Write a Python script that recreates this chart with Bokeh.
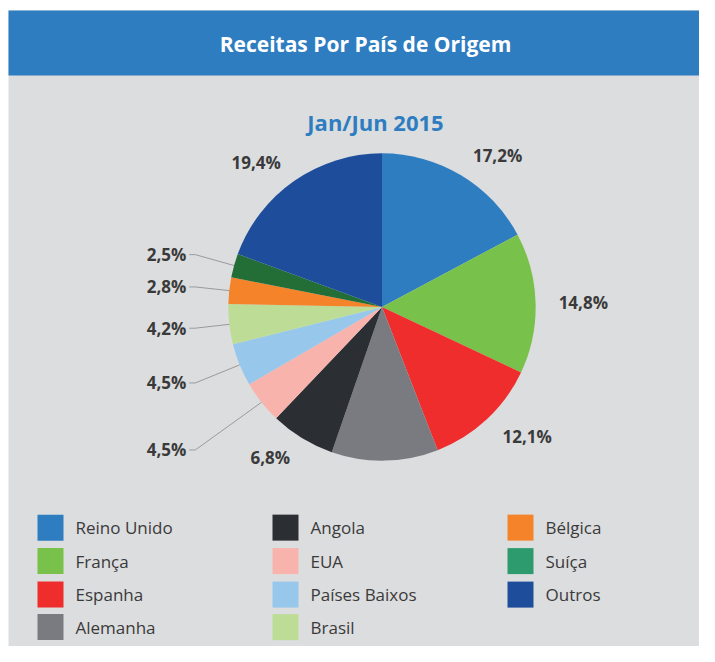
import math
from bokeh.plotting import figure
from bokeh.models import Range1d, ColumnDataSource
from bokeh.core.properties import value
from bokeh.embed import file_html
from bokeh.resources import INLINE

# ---- data ----
title = "Receitas Por País de Origem"
subtitle = "Jan/Jun 2015"
countries = ["Reino Unido", "França", "Espanha", "Alemanha", "Angola", "EUA",
             "Países Baixos", "Brasil", "Bélgica", "Suíça", "Outros"]
shares = [17.2, 14.8, 12.1, 11.2, 6.8, 4.5, 4.5, 4.2, 2.8, 2.5, 19.4]
labels = ["17,2%", "14,8%", "12,1%", "", "6,8%", "4,5%", "4,5%", "4,2%", "2,8%", "2,5%", "19,4%"]
colors = ["#2E7DC1", "#78C14A", "#EE2D2C", "#7A7B80", "#2B2F33", "#F8B4AC",
          "#98C7EC", "#BDDC95", "#F4832A", "#236E37", "#1E4E9B"]
legend_colors = ["#2E7DC1", "#78C14A", "#EE2D2C", "#7A7B80", "#2B2F33", "#F8B4AC",
                 "#98C7EC", "#BDDC95", "#F4832A", "#2E9B6F", "#1E4E9B"]

# ---- layout ----
W, H = 699, 646
K = 0.985  # vertical compression to fit the window
BG = "#DCDDDF"
HEADER = "#2E7DC1"
TEXT = "#3A3A3A"


def X(px):
    return px


def Y(py):
    return H - 10 - (py - 10) * K


p = figure(width=W, height=H, output_backend="svg", toolbar_location=None,
           x_range=Range1d(0, W), y_range=Range1d(0, H),
           x_axis_type=None, y_axis_type=None, min_border=0)
p.background_fill_color = "white"
p.border_fill_color = "white"
p.outline_line_color = None
p.grid.visible = False

# panel + header band
p.quad(left=X(8), right=W, top=Y(10), bottom=0, fill_color=BG, line_color=None)
p.quad(left=X(8), right=W, top=Y(10), bottom=Y(76), fill_color=HEADER, line_color=None)
p.text(x=[X(365)], y=[Y(44)], text=[title], text_font=value("Open Sans"),
       text_font_style="bold", text_font_size="21px", text_color="white",
       text_align="center", text_baseline="middle")
p.text(x=[X(375)], y=[Y(123)], text=[subtitle], text_font=value("Open Sans"),
       text_font_style="bold", text_font_size="22px", text_color=HEADER,
       text_align="center", text_baseline="middle")

# pie
cx, cy, R = X(381.5), Y(311), 156 * K
total = sum(shares)
starts, ends, mids = [], [], []
cum = 0.0
for v in shares:
    a0 = cum / total
    cum += v
    a1 = cum / total
    starts.append(math.pi / 2 - 2 * math.pi * a0)
    ends.append(math.pi / 2 - 2 * math.pi * a1)
    mids.append(2 * math.pi * (a0 + a1) / 2)  # clockwise from top

src = ColumnDataSource(dict(start=starts, end=ends, color=colors))
p.wedge(x=cx, y=cy, radius=R, start_angle="start", end_angle="end",
        direction="clock", fill_color="color", line_color=None, source=src)

# labels
col_x = cx - 1.215 * R  # leader line end column
for v, lab, th in zip(shares, labels, mids):
    if not lab:
        continue
    s, c = math.sin(th), math.cos(th)
    if v < 5 and s < 0:
        ex, ey = cx + R * s, cy + R * c
        t = min((cx - col_x) / (-s), 1.5 * R)
        ly = cy + t * c
        p.line(x=[ex, col_x, col_x - 6], y=[ey, ly, ly], line_color="#9A9A9A", line_width=1)
        p.text(x=[col_x - 9], y=[ly], text=[lab], text_font=value("Open Sans"),
               text_font_style="bold", text_font_size="17px", text_color=TEXT,
               text_align="right", text_baseline="middle")
    else:
        lx, ly = cx + 1.15 * R * s, cy + 1.15 * R * c
        p.text(x=[lx], y=[ly], text=[lab], text_font=value("Open Sans"),
               text_font_style="bold", text_font_size="17px", text_color=TEXT,
               text_align="left" if s > 0 else "right", text_baseline="middle")

# legend (column-major, 4 rows)
col_left = [X(37), X(272), X(507)]
row_y = [Y(535), Y(569), Y(603), Y(636)]
sw = 26
lx, ly, lc, tx = [], [], [], []
for i, (name, col) in enumerate(zip(countries, legend_colors)):
    ci, ri = divmod(i, 4)
    lx.append(col_left[ci])
    ly.append(row_y[ri])
    lc.append(col)
    tx.append(name)
p.quad(left=lx, right=[x + sw for x in lx], top=[y + sw / 2 for y in ly],
       bottom=[y - sw / 2 for y in ly], fill_color=lc, line_color=None)
p.text(x=[x + 38 for x in lx], y=ly, text=tx, text_font=value("Open Sans"),
       text_font_size="17px", text_color=TEXT, text_align="left", text_baseline="middle")

open("out.html", "w").write(file_html(p, INLINE))
